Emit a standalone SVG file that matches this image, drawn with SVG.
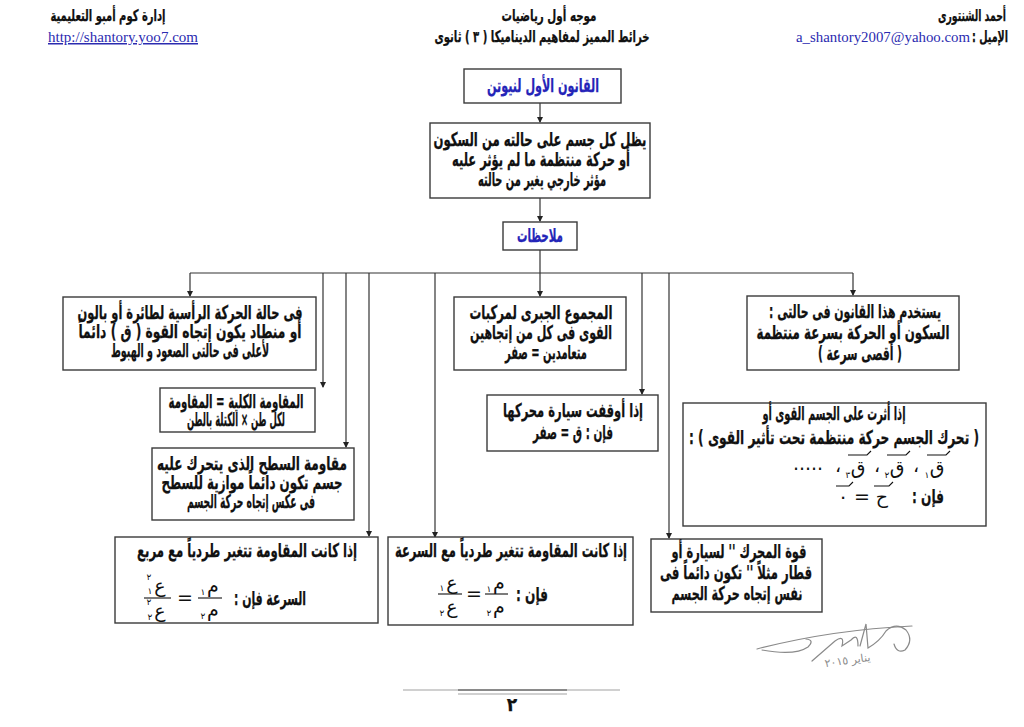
<svg xmlns="http://www.w3.org/2000/svg" width="1024" height="727" viewBox="0 0 1024 727">
<style>
.bx{fill:#fff;stroke:#3a3a3a;stroke-width:1.4}
.t{font-family:"DejaVu Sans Condensed","DejaVu Sans",sans-serif;font-stretch:condensed;font-weight:bold;font-size:19px;fill:#111;stroke:#111;stroke-width:0.25;text-anchor:middle;direction:rtl}
.h{font-size:16px}
.m{font-family:"DejaVu Sans",sans-serif;font-size:19px;fill:#111;text-anchor:middle}
.s{font-family:"DejaVu Sans",sans-serif;font-size:9px;fill:#111;text-anchor:middle}
.blue{fill:#2424b8;stroke:#2424b8}
.lat{font-family:"Liberation Serif",serif;font-size:15px;fill:#2b2bb0}
.cn line{stroke:#333;stroke-width:1.2;fill:none}
.vec{stroke:#111;stroke-width:1.1;fill:none}
.sig{stroke:#8a8a8a;stroke-width:1.2;fill:none;stroke-linecap:round}
</style>
<defs>
<marker id="ah" markerWidth="6" markerHeight="6" refX="5" refY="3" orient="auto" markerUnits="userSpaceOnUse">
<path d="M0,0 L6,3 L0,6 Z" fill="#222"/>
</marker>
</defs>
<rect width="1024" height="727" fill="#fff"/>

<g id="header">
<text class="t h" x="108" y="21" textLength="115" lengthAdjust="spacingAndGlyphs">إدارة كوم أمبو التعليمية</text>
<text class="lat" x="48" y="42" textLength="150" lengthAdjust="spacingAndGlyphs" text-decoration="underline">http://shantory.yoo7.com</text>
<text class="t h" x="549" y="21" textLength="95" lengthAdjust="spacingAndGlyphs">موجه أول رياضيات</text>
<text class="t h" x="542" y="42" textLength="215" lengthAdjust="spacingAndGlyphs">خرائط المميز لمفاهيم الديناميكا ( ٣ ) ثانوى</text>
<text class="t h" x="972" y="21" textLength="68" lengthAdjust="spacingAndGlyphs">أحمد الشنتورى</text>
<text class="t h" x="990" y="42" textLength="36" lengthAdjust="spacingAndGlyphs">الإميل :</text>
<text class="lat" x="796" y="42" textLength="174" lengthAdjust="spacingAndGlyphs">a_shantory2007@yahoo.com</text>
</g>

<g class="cn" id="connectors">
<line x1="540" y1="103" x2="540" y2="122" marker-end="url(#ah)"/>
<line x1="540" y1="198" x2="540" y2="221" marker-end="url(#ah)"/>
<line x1="540" y1="250" x2="540" y2="273"/>
<line x1="190" y1="273" x2="853" y2="273"/>
<line x1="190" y1="273" x2="190" y2="296" marker-end="url(#ah)"/>
<line x1="323" y1="273" x2="323" y2="387" marker-end="url(#ah)"/>
<line x1="346" y1="273" x2="346" y2="447" marker-end="url(#ah)"/>
<line x1="369" y1="273" x2="369" y2="536" marker-end="url(#ah)"/>
<line x1="435" y1="273" x2="435" y2="537" marker-end="url(#ah)"/>
<line x1="540" y1="273" x2="540" y2="296" marker-end="url(#ah)"/>
<line x1="642" y1="273" x2="642" y2="394" marker-end="url(#ah)"/>
<line x1="669" y1="273" x2="669" y2="538" marker-end="url(#ah)"/>
<line x1="853" y1="273" x2="853" y2="295" marker-end="url(#ah)"/>
</g>

<g id="n1">
<rect class="bx" x="464" y="69" width="157" height="34"/>
<text class="t blue" x="543" y="92" textLength="112" lengthAdjust="spacingAndGlyphs">القانون الأول لنيوتن</text>
</g>

<g id="n2">
<rect class="bx" x="430" y="123" width="220" height="75"/>
<text class="t" x="540" y="146" textLength="213" lengthAdjust="spacingAndGlyphs">يظل كل جسم على حالته من السكون</text>
<text class="t" x="541" y="166" textLength="178" lengthAdjust="spacingAndGlyphs">أو حركة منتظمة ما لم يؤثر عليه</text>
<text class="t" x="542" y="186" textLength="128" lengthAdjust="spacingAndGlyphs">مؤثر خارجي يغير من حالته</text>
</g>

<g id="n3">
<rect class="bx" x="503" y="222" width="74" height="28"/>
<text class="t blue" x="540" y="242" textLength="46" lengthAdjust="spacingAndGlyphs">ملاحظات</text>
</g>

<g id="nA">
<rect class="bx" x="63" y="297" width="253" height="73"/>
<text class="t" x="190" y="319" textLength="225" lengthAdjust="spacingAndGlyphs">فى حالة الحركة الرأسية لطائرة أو بالون</text>
<text class="t" x="190" y="338" textLength="223" lengthAdjust="spacingAndGlyphs">أو منطاد يكون إتجاه القوة ( ق ) دائماً</text>
<text class="t" x="190" y="357" textLength="158" lengthAdjust="spacingAndGlyphs">لأعلى فى حالتى الصعود و الهبوط</text>
</g>

<g id="nB">
<rect class="bx" x="160" y="388" width="155" height="44"/>
<text class="t" x="236" y="408" textLength="135" lengthAdjust="spacingAndGlyphs">المقاومة الكلية = المقاومة</text>
<text class="t" x="236" y="426" textLength="98" lengthAdjust="spacingAndGlyphs">لكل طن × الكتلة بالطن</text>
</g>

<g id="nC">
<rect class="bx" x="152" y="448" width="202" height="72"/>
<text class="t" x="252" y="470" textLength="190" lengthAdjust="spacingAndGlyphs">مقاومة السطح الذى يتحرك عليه</text>
<text class="t" x="252" y="489" textLength="181" lengthAdjust="spacingAndGlyphs">جسم تكون دائماً موازية للسطح</text>
<text class="t" x="251" y="508" textLength="128" lengthAdjust="spacingAndGlyphs">فى عكس إتجاه حركة الجسم</text>
</g>

<g id="nD">
<rect class="bx" x="115" y="537" width="263" height="86"/>
<text class="t" x="247" y="557" textLength="220" lengthAdjust="spacingAndGlyphs">إذا كانت المقاومة تتغير طردياً مع مربع</text>
<line class="vec" x1="144" y1="598" x2="171" y2="598"/>
<text class="m" x="160" y="592">ع</text>
<text class="s" x="149" y="580">٢</text>
<text class="s" x="150" y="594">١</text>
<text class="m" x="160" y="617">ع</text>
<text class="s" x="149" y="605">٢</text>
<text class="s" x="150" y="620">٢</text>
<text class="m" x="185" y="604">=</text>
<line class="vec" x1="198" y1="598" x2="222" y2="598"/>
<text class="m" x="213" y="592">م</text>
<text class="s" x="203" y="595">١</text>
<text class="m" x="213" y="616">م</text>
<text class="s" x="203" y="619">٢</text>
<text class="t" x="270" y="605" textLength="72" lengthAdjust="spacingAndGlyphs">السرعة فإن :</text>
</g>

<g id="nE">
<rect class="bx" x="388" y="537" width="245" height="88"/>
<text class="t" x="511" y="557" textLength="232" lengthAdjust="spacingAndGlyphs">إذا كانت المقاومة تتغير طردياً مع السرعة</text>
<line class="vec" x1="438" y1="594" x2="462" y2="594"/>
<text class="m" x="452" y="589">ع</text>
<text class="s" x="442" y="591">١</text>
<text class="m" x="452" y="613">ع</text>
<text class="s" x="442" y="616">٢</text>
<text class="m" x="474" y="600">=</text>
<line class="vec" x1="485" y1="594" x2="508" y2="594"/>
<text class="m" x="499" y="589">م</text>
<text class="s" x="489" y="592">١</text>
<text class="m" x="499" y="613">م</text>
<text class="s" x="489" y="616">٢</text>
<text class="t" x="532" y="601" textLength="32" lengthAdjust="spacingAndGlyphs">فإن :</text>
</g>

<g id="nF">
<rect class="bx" x="454" y="297" width="172" height="73"/>
<text class="t" x="541" y="319" textLength="143" lengthAdjust="spacingAndGlyphs">المجموع الجبرى لمركبات</text>
<text class="t" x="541" y="339" textLength="142" lengthAdjust="spacingAndGlyphs">القوى فى كل من إتجاهين</text>
<text class="t" x="546" y="359" textLength="82" lengthAdjust="spacingAndGlyphs">متعامدين = صفر</text>
</g>

<g id="nG">
<rect class="bx" x="487" y="395" width="171" height="56"/>
<text class="t" x="573" y="417" textLength="140" lengthAdjust="spacingAndGlyphs">إذا أوقفت سيارة محركها</text>
<text class="t" x="573" y="439" textLength="80" lengthAdjust="spacingAndGlyphs">فإن :  ق = صفر</text>
</g>

<g id="nH">
<rect class="bx" x="651" y="539" width="171" height="73"/>
<text class="t" x="739" y="558" textLength="135" lengthAdjust="spacingAndGlyphs">قوة المحرك '' لسيارة أو</text>
<text class="t" x="736" y="579" textLength="152" lengthAdjust="spacingAndGlyphs">قطار مثلاً '' تكون دائماً فى</text>
<text class="t" x="737" y="600" textLength="131" lengthAdjust="spacingAndGlyphs">نفس إتجاه حركة الجسم</text>
</g>

<g id="nI">
<rect class="bx" x="747" y="296" width="212" height="74"/>
<text class="t" x="855" y="318" textLength="172" lengthAdjust="spacingAndGlyphs">يستخدم هذا القانون فى حالتى :</text>
<text class="t" x="853" y="339" textLength="193" lengthAdjust="spacingAndGlyphs">السكون أو الحركة بسرعة منتظمة</text>
<text class="t" x="860" y="360" textLength="84" lengthAdjust="spacingAndGlyphs">( أقصى سرعة )</text>
</g>

<g id="nJ">
<rect class="bx" x="683" y="403" width="303" height="123"/>
<text class="t" x="834" y="420" textLength="143" lengthAdjust="spacingAndGlyphs">إذا أثرت على الجسم القوى أو</text>
<text class="t" x="834" y="444" textLength="290" lengthAdjust="spacingAndGlyphs">( تحرك الجسم حركة منتظمة تحت تأثير القوى ) :</text>
<text class="m" x="937" y="474">ق</text>
<text class="s" x="927" y="478">١</text>
<path class="vec" d="M927,455 L946,455 L950,451"/>
<text class="m" x="916" y="472">،</text>
<text class="m" x="897" y="474">ق</text>
<text class="s" x="887" y="478">٢</text>
<path class="vec" d="M887,455 L906,455 L910,451"/>
<text class="m" x="877" y="472">،</text>
<text class="m" x="858" y="474">ق</text>
<text class="s" x="848" y="478">٣</text>
<path class="vec" d="M848,455 L867,455 L871,451"/>
<text class="m" x="838" y="472">،</text>
<text class="m" x="808" y="470">.....</text>
<text class="t" x="928" y="503" textLength="32" lengthAdjust="spacingAndGlyphs">فإن :</text>
<text class="m" x="882" y="503">ح</text>
<path class="vec" d="M874,486 L889,486 L893,482"/>
<text class="m" x="862" y="503">=</text>
<text class="m" x="843" y="503">٠</text>
<path class="vec" d="M836,486 L849,486 L853,482"/>
</g>

<g id="signature">
<path class="sig" d="M757,649 Q830,630 912,626"/>
<path class="sig" d="M762,650 Q795,656 808,647 Q815,640 806,639"/>
<path class="sig" d="M812,661 L835,641 Q845,634 842,646 L851,640 Q858,632 858,646"/>
<path class="sig" d="M860,646 L866,624 L868,648 Q880,641 886,631 Q896,622 906,630 Q914,640 905,650 Q897,654 894,644"/>
<text x="848" y="664" transform="rotate(-8 848 664)" font-family="DejaVu Sans, sans-serif" font-size="11" fill="#8a8a8a" text-anchor="middle" direction="rtl">يناير ٢٠١٥</text>
</g>

<g id="footer">
<line x1="403" y1="690" x2="620" y2="690" stroke="#c0c0c0" stroke-width="1.5"/>
<line x1="458" y1="690" x2="567" y2="690" stroke="#8a8a8a" stroke-width="2"/>
<line x1="458" y1="694" x2="567" y2="694" stroke="#c0c0c0" stroke-width="1.5"/>
<text class="t" x="512" y="711">٢</text>
</g>
</svg>
